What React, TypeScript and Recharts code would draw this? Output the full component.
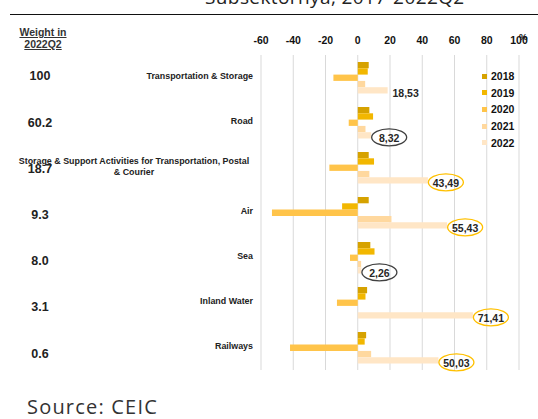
import { BarChart, Bar, XAxis, YAxis, CartesianGrid, Legend, LabelList } from 'recharts';

// Growth by subsector, %, with weight in 2022Q2
const categories = [
  'Transportation & Storage',
  'Road',
  'Storage & Support Activities for Transportation, Postal & Courier',
  'Air',
  'Sea',
  'Inland Water',
  'Railways',
];
const weights = ['100', '60.2', '18.7', '9.3', '8.0', '3.1', '0.6'];
const years = ['2018', '2019', '2020', '2021', '2022'];
const y2018 = [6.8, 7.2, 6.8, 6.8, 7.8, 5.8, 5.2];
const y2019 = [6.2, 9.5, 10.1, -9.7, 10.4, 4.8, 4.3];
const y2020 = [-15.1, -5.6, -17.6, -53.2, -4.8, -12.9, -42.0];
const y2021 = [4.6, 4.8, 7.2, 20.9, 2.1, 0, 8.3];
const y2022 = [18.53, 8.32, 43.49, 55.43, 2.26, 71.41, 50.03];
const xTicks = [-60, -40, -20, 0, 20, 40, 60, 80, 100];

const yearColors = ['#D6A200', '#F2B700', '#FFC44A', '#FFD89E', '#FFE6C6'];
// ring colour drawn around the 2022 value, per category
const ringColors = ['none', '#404040', '#FFC000', '#FFC000', '#404040', '#FFC000', '#FFC000'];

const series = [y2018, y2019, y2020, y2021, y2022];
const data = categories.map((name, i) => {
  const row: Record<string, string | number> = { name, weight: weights[i] };
  years.forEach((yr, k) => (row[yr] = series[k][i]));
  return row;
});

const FONT = 'Liberation Sans, Arial, sans-serif';

function CategoryTick({ y, payload, index }: any) {
  const name: string = payload.value;
  const split = name.indexOf('Postal');
  return (
    <g fontFamily={FONT} fontWeight="bold">
      {split > 0 ? (
        <text x={134} y={y} textAnchor="middle" fontSize={8.9} fill="#222">
          <tspan x={134} dy={-4}>{name.slice(0, split + 6)}</tspan>
          <tspan x={134} dy={11}>{name.slice(split + 7)}</tspan>
        </text>
      ) : (
        <text x={253} y={y} dy={-1.5} textAnchor="end" dominantBaseline="central" fontSize={8.9} fill="#222">
          {name}
        </text>
      )}
      <text x={40} y={y} dy={(index - 1) * 1.2} textAnchor="middle" dominantBaseline="central" fontSize={12.5} fill="#222">
        {weights[index]}
      </text>
    </g>
  );
}

function TopTick({ x, payload }: any) {
  return (
    <text x={x} y={44} textAnchor="middle" fontFamily={FONT} fontWeight="bold" fontSize={10.5} fill="#111">
      {payload.value}
    </text>
  );
}

function RingLabel({ x, y, width, height, value, index }: any) {
  const cx = x + width + 18;
  const cy = y + height / 2 + 2;
  const ring = ringColors[index];
  return (
    <g>
      {ring !== 'none' && (
        <ellipse cx={cx} cy={cy} rx={17.5} ry={8.5} fill="#fff" fillOpacity={0} stroke={ring} strokeWidth={1.3} />
      )}
      <text x={cx} y={cy} dy={0.5} textAnchor="middle" dominantBaseline="central" fontFamily={FONT}
        fontWeight="bold" fontSize={10.5} fill="#262626">
        {Number(value).toFixed(2).replace('.', ',')}
      </text>
    </g>
  );
}

function LegendBox() {
  return (
    <div style={{ fontFamily: FONT, fontWeight: 'bold', fontSize: 10.5, color: '#111' }}>
      {years.map((yr, k) => (
        <div key={yr} style={{ display: 'flex', alignItems: 'center', height: 16.6 }}>
          <span style={{ width: 5, height: 5, background: yearColors[k], marginRight: 4 }} />
          {yr}
        </div>
      ))}
    </div>
  );
}

export default function App() {
  return (
    <div style={{ position: 'absolute', left: 0, top: 0, width: 538, height: 419, background: '#fff', overflow: 'hidden' }}>
      <div style={{ position: 'absolute', left: 205, top: -16, fontFamily: 'Open Sans, sans-serif', fontSize: 19, letterSpacing: 0.4, color: '#222', whiteSpace: 'nowrap' }}>
        Subsektornya, 2017-2022Q2
      </div>
      <div style={{ position: 'absolute', left: 10, top: 14, width: 528, height: 0, borderTop: '1.5px solid #111' }} />
      <div style={{ position: 'absolute', left: 8, top: 26, width: 70, textAlign: 'center', fontFamily: FONT, fontWeight: 'bold', fontSize: 10.5, lineHeight: '12px', color: '#333', textDecoration: 'underline' }}>
        Weight in<br />2022Q2
      </div>
      <div style={{ position: 'absolute', left: 519, top: 31, fontFamily: FONT, fontWeight: 'bold', fontSize: 9.5, color: '#111' }}>%</div>
      <BarChart
        width={538}
        height={419}
        data={data}
        layout="vertical"
        barGap={0}
        barSize={6.3}
        margin={{ top: 25, right: 19, bottom: 49, left: 0 }}
      >
        <CartesianGrid horizontal={false} stroke="#d9d9d9" />
        <XAxis
          type="number"
          orientation="top"
          domain={[-60, 100]}
          ticks={xTicks}
          height={30}
          axisLine={false}
          tickLine={false}
          tick={<TopTick />}
          interval={0}
        />
        <YAxis
          type="category"
          dataKey="name"
          width={261}
          axisLine={false}
          tickLine={false}
          tick={<CategoryTick />}
          interval={0}
        />
        <Legend
          layout="vertical"
          align="center"
          verticalAlign="middle"
          content={<LegendBox />}
          wrapperStyle={{ left: 482, top: 68, width: 50 }}
        />
        {years.map((yr, k) => (
          <Bar key={yr} dataKey={yr} fill={yearColors[k]} isAnimationActive={false}>
            {k === 4 && <LabelList dataKey={yr} content={<RingLabel />} />}
          </Bar>
        ))}
      </BarChart>
      <div style={{ position: 'absolute', left: 27, top: 396, lineHeight: '22px', fontFamily: 'Open Sans, sans-serif', fontSize: 20, letterSpacing: 1.2, color: '#333' }}>
        Source: CEIC
      </div>
    </div>
  );
}
